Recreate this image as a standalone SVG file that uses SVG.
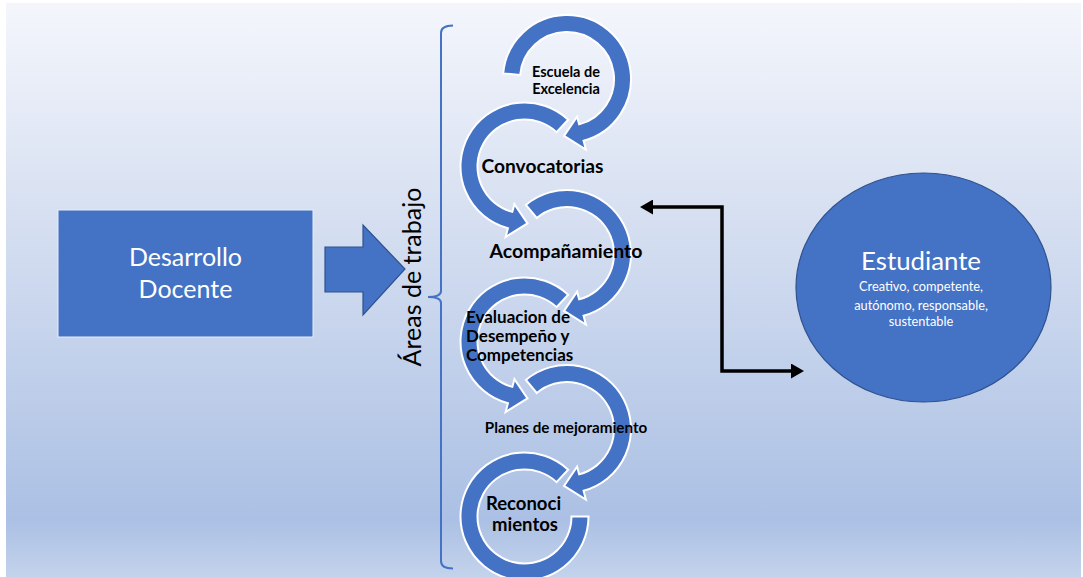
<svg xmlns="http://www.w3.org/2000/svg" width="1083" height="577" viewBox="0 0 1083 577">
<defs>
<linearGradient id="bg" x1="0" y1="3" x2="0" y2="577" gradientUnits="userSpaceOnUse">
<stop offset="0" stop-color="#f4f6fc"/>
<stop offset="0.45" stop-color="#d0dbef"/>
<stop offset="0.9" stop-color="#abc0e4"/>
<stop offset="1" stop-color="#c4d3ec"/>
</linearGradient>
<marker id="ah" markerUnits="userSpaceOnUse" markerWidth="14" markerHeight="15" refX="0" refY="7.5" orient="auto-start-reverse">
<path d="M0,0 L13,7.5 L0,15 Z" fill="#000"/>
</marker>
<style>
.ring{fill:#4472c4;stroke:#ffffff;stroke-width:2;stroke-linejoin:miter}
.lbl{font-family:Lato,"Open Sans","Liberation Sans",sans-serif;font-weight:bold;fill:#000}
.wt{font-family:Lato,"Open Sans","Liberation Sans",sans-serif;fill:#fff;text-anchor:middle}
.blue{fill:#4472c4;stroke:#2f528f;stroke-width:1.2}
</style>
</defs>
<rect x="0" y="0" width="1083" height="577" fill="#fff"/>
<rect x="6" y="3" width="1075" height="574" fill="url(#bg)"/>

<g id="desarrollo-docente">
<rect x="58" y="210" width="255" height="127" fill="#4472c4" stroke="#e8eef8" stroke-width="1"/>
<text class="wt" font-size="25" x="185.5" y="266">Desarrollo</text>
<text class="wt" font-size="25" x="185.5" y="298">Docente</text>
</g>

<g id="flecha-bloque">
<polygon class="blue" points="325,247 363,247 363,225 405,269 363,315 363,292 325,292"/>
</g>

<g id="areas-de-trabajo">
<path d="M453,25.5 Q441,25.5 441,33 L441,291 Q441,297 428,297 Q441,297 441,303 L441,561 Q441,568.5 453,568.5" fill="none" stroke="#4472c4" stroke-width="2"/>
<text font-family="Lato,'Open Sans','Liberation Sans',sans-serif" font-size="25" fill="#000" text-anchor="middle" transform="translate(421,277) rotate(-90)">Áreas de trabajo</text>
</g>

<g id="ciclo">
<g id="escuela-de-excelencia">
<path class="ring" d="M503.24,73.42 A64,64 0 1 1 583.56,140.82 L585.89,149.51 L564.02,135.92 L577.09,116.67 L579.16,124.40 A47,47 0 1 0 520.18,74.90 Z"/>
</g>
<g id="convocatorias">
<path class="ring" d="M568.15,119.69 A64,64 0 1 0 507.94,228.32 L505.61,237.01 L527.48,223.42 L514.41,204.17 L512.34,211.90 A47,47 0 1 1 556.55,132.13 Z"/>
</g>
<g id="acompanamiento">
<path class="ring" d="M525.86,204.97 A64,64 0 1 1 583.56,315.82 L585.89,324.51 L564.02,310.92 L577.09,291.67 L579.16,299.40 A47,47 0 1 0 536.79,218.00 Z"/>
</g>
<g id="evaluacion">
<path class="ring" d="M568.15,294.69 A64,64 0 1 0 507.94,403.32 L505.61,412.01 L527.48,398.42 L514.41,379.17 L512.34,386.90 A47,47 0 1 1 556.55,307.13 Z"/>
</g>
<g id="planes">
<path class="ring" d="M525.86,379.97 A64,64 0 1 1 583.56,490.82 L585.89,499.51 L564.02,485.92 L577.09,466.67 L579.16,474.40 A47,47 0 1 0 536.79,393.00 Z"/>
</g>
<g id="reconocimientos">
<path class="ring" d="M568.15,469.69 A64,64 0 1 0 588.5,516.5 L571.5,516.5 A47,47 0 1 1 556.55,482.13 Z"/>
</g>
<g id="etiquetas">
<text class="lbl" font-size="14.5" x="566" y="77" text-anchor="middle">Escuela de</text>
<text class="lbl" font-size="14.5" x="566" y="94" text-anchor="middle">Excelencia</text>
<text class="lbl" font-size="19.2" x="542.5" y="173" text-anchor="middle">Convocatorias</text>
<text class="lbl" font-size="19.5" x="566" y="258" text-anchor="middle">Acompañamiento</text>
<text class="lbl" font-size="17" x="466" y="323">Evaluacion de</text>
<text class="lbl" font-size="17" x="466" y="342">Desempeño y</text>
<text class="lbl" font-size="17" x="466" y="361">Competencias</text>
<text class="lbl" font-size="15.2" x="566" y="433" text-anchor="middle">Planes de mejoramiento</text>
<text class="lbl" font-size="18.5" x="523.5" y="509.5" text-anchor="middle">Reconoci</text>
<text class="lbl" font-size="18.5" x="525" y="531" text-anchor="middle">mientos</text>
</g>
</g>

<g id="conectores">
<polyline points="653,207 722,207 722,371 791,371" fill="none" stroke="#000" stroke-width="3.5" marker-start="url(#ah)" marker-end="url(#ah)"/>
</g>

<g id="estudiante">
<ellipse class="blue" cx="923.5" cy="287.5" rx="127.5" ry="114.5"/>
<text class="wt" font-size="25.8" x="921" y="270">Estudiante</text>
<text class="wt" font-size="12.8" x="921" y="291">Creativo, competente,</text>
<text class="wt" font-size="12.8" x="921" y="310">autónomo, responsable,</text>
<text class="wt" font-size="12.8" x="921" y="326">sustentable</text>
</g>
</svg>
